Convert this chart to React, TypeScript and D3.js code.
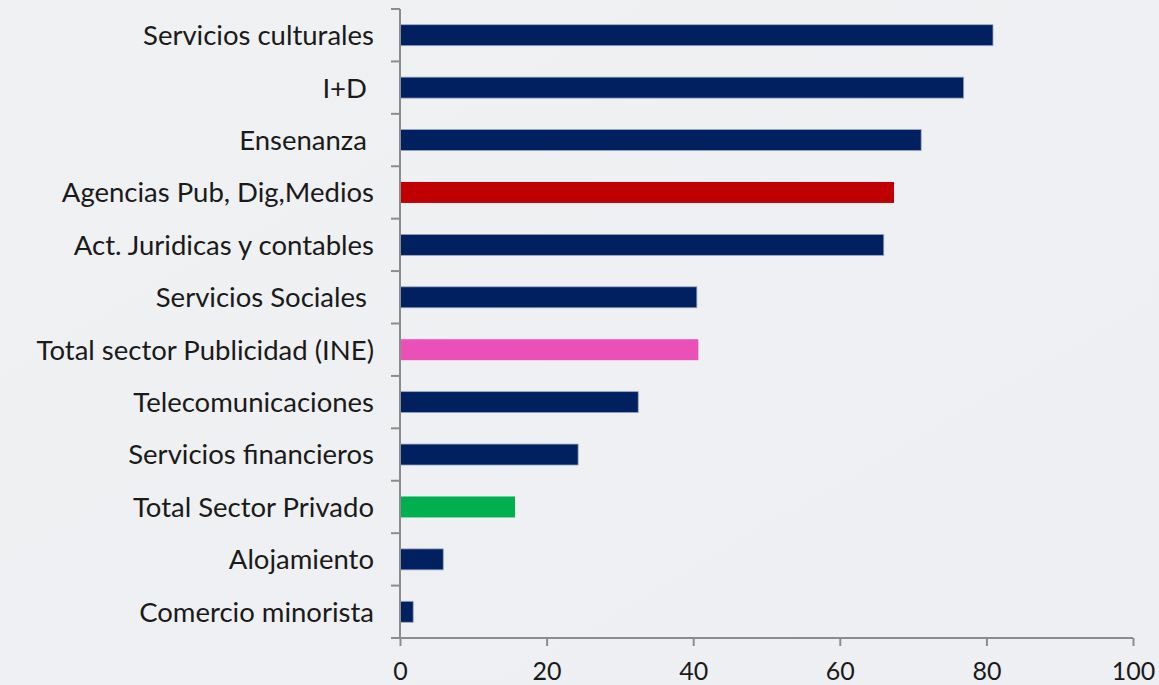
import React, { useEffect, useRef } from 'react';
import * as d3 from 'd3';

const categories = [
  'Servicios culturales',
  'I+D ',
  'Ensenanza ',
  'Agencias Pub, Dig,Medios',
  'Act. Juridicas y contables',
  'Servicios Sociales ',
  'Total sector Publicidad (INE)',
  'Telecomunicaciones',
  'Servicios financieros',
  'Total Sector Privado',
  'Alojamiento',
  'Comercio minorista',
];
const values = [80.9, 76.9, 71.1, 67.4, 66.0, 40.5, 40.7, 32.5, 24.3, 15.7, 5.9, 1.8];
const barColors = [
  '#002060', '#002060', '#002060', '#c00000', '#002060', '#002060',
  '#eb4fb8', '#002060', '#002060', '#00b050', '#002060', '#002060',
];
const xTicks = [0, 20, 40, 60, 80, 100];

const W = 1159;
const H = 685;
const FONT = "'Lato', 'DejaVu Sans', sans-serif";

const App: React.FC = () => {
  const svgRef = useRef<SVGSVGElement>(null);

  useEffect(() => {
    document.body.style.margin = '0';
    if (!svgRef.current) return;
    const svg = d3.select(svgRef.current);
    svg.selectAll('*').remove();

    const margin = { top: 9, right: 26, bottom: 47, left: 400 };

    // background gradient
    const defs = svg.append('defs');
    const grad = defs.append('linearGradient').attr('id', 'bg').attr('x1', 0).attr('y1', 0).attr('x2', 1).attr('y2', 1);
    grad.append('stop').attr('offset', '0%').attr('stop-color', '#f0f1f3');
    grad.append('stop').attr('offset', '100%').attr('stop-color', '#eeeff2');
    svg.append('rect').attr('width', W).attr('height', H).attr('fill', 'url(#bg)');

    const x = d3.scaleLinear().domain([0, 100]).range([margin.left, W - margin.right]);
    const y = d3.scaleBand<string>()
      .domain(categories)
      .range([margin.top, H - margin.bottom])
      .paddingInner(0.6)
      .paddingOuter(0.3);

    // bars
    svg.append('g')
      .selectAll('rect')
      .data(values)
      .enter()
      .append('rect')
      .attr('x', x(0))
      .attr('y', (_d, i) => y(categories[i]) || 0)
      .attr('width', d => x(d) - x(0))
      .attr('height', y.bandwidth())
      .attr('fill', (_d, i) => barColors[i])
      .attr('stroke', (_d, i) => (barColors[i] === '#002060' ? '#9aa6c4' : 'none'))
      .attr('stroke-width', 0.8);

    // y axis
    const yAxis = d3.axisLeft(y).tickSize(0).tickPadding(26).tickFormat(d => d as string);
    const gy = svg.append('g').attr('transform', `translate(${x(0)},0)`).call(yAxis);
    gy.select('.domain').remove();
    gy.selectAll('text')
      .attr('font-family', FONT)
      .attr('font-size', 27.5)
      .attr('dy', '0.36em')
      .attr('fill', '#1a1a1a')
      .style('white-space', 'pre');

    // y axis line and category boundary ticks
    const top = margin.top;
    const bottom = H - margin.bottom;
    svg.append('line')
      .attr('x1', x(0)).attr('x2', x(0))
      .attr('y1', top).attr('y2', bottom)
      .attr('stroke', '#8c8c8c').attr('stroke-width', 2);
    const step = (bottom - top) / categories.length;
    svg.append('g')
      .selectAll('line')
      .data(d3.range(categories.length))
      .enter()
      .append('line')
      .attr('x1', x(0) - 9).attr('x2', x(0))
      .attr('y1', i => top + i * step).attr('y2', i => top + i * step)
      .attr('stroke', '#8c8c8c').attr('stroke-width', 2);

    // x axis
    const xAxis = d3.axisBottom(x).tickValues(xTicks).tickSize(8).tickPadding(16).tickSizeOuter(0);
    const gx = svg.append('g').attr('transform', `translate(0,${bottom})`).call(xAxis);
    gx.select('.domain').attr('stroke', '#8c8c8c').attr('stroke-width', 2)
      .attr('d', `M${x(0) - 9},0H${x(100)}`);
    gx.selectAll('.tick line').attr('stroke', '#8c8c8c').attr('stroke-width', 2);
    gx.selectAll('text')
      .attr('font-family', FONT)
      .attr('font-size', 25)
      .attr('fill', '#1a1a1a');
  }, []);

  return <svg ref={svgRef} width={W} height={H} style={{ display: 'block' }} />;
};

export default App;
